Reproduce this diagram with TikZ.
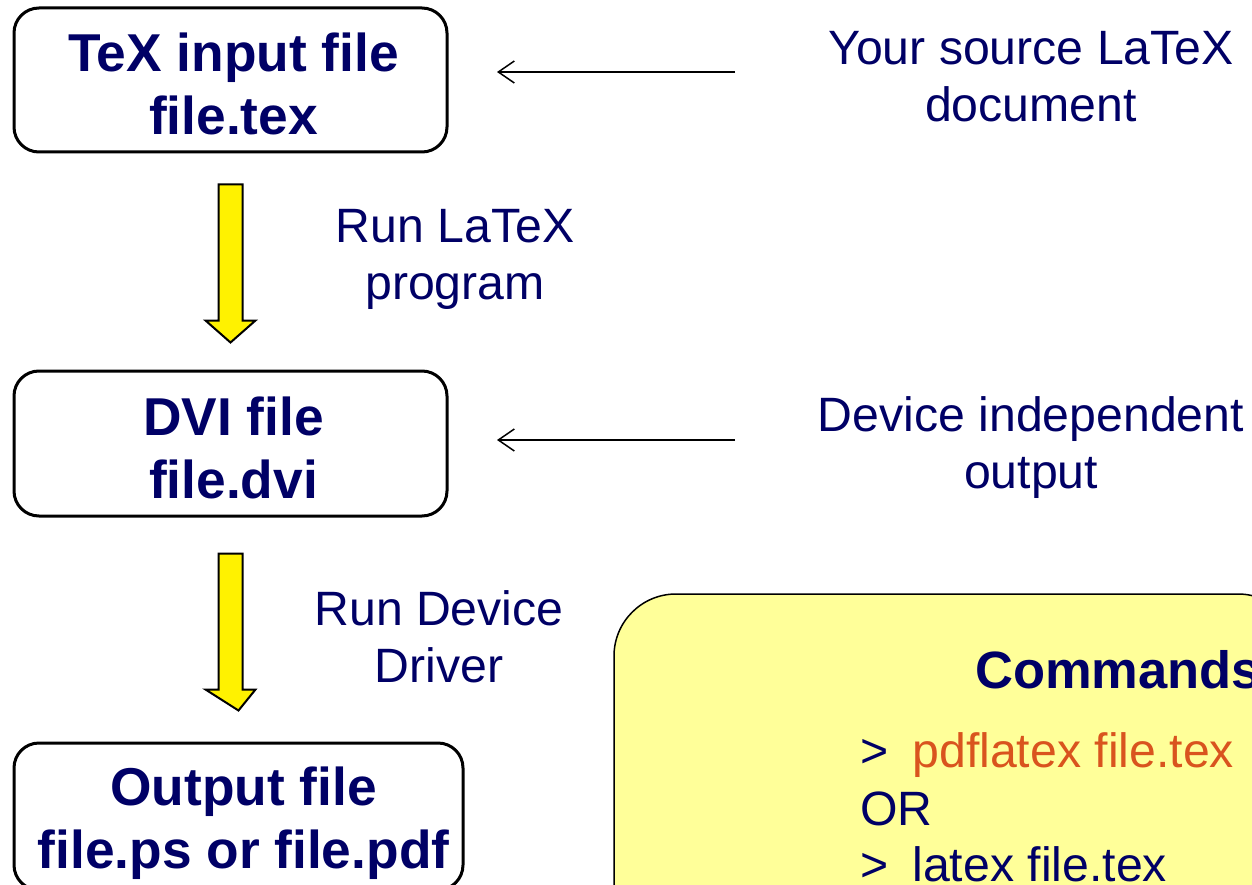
\documentclass[tikz,border=0pt]{standalone}
\usepackage{fontspec}
\setmainfont{Liberation Sans}
\usetikzlibrary{arrows.meta,calc}
\definecolor{navy}{RGB}{0,0,102}
\definecolor{cmdorange}{RGB}{217,84,30}
\definecolor{lightyel}{RGB}{255,255,153}
\begin{document}
\begin{tikzpicture}[x=1pt,y=-1pt,
  filebox/.style={draw=black, line width=3pt, rounded corners=25pt, inner sep=0pt},
  boxtext/.style={align=center, text=navy, font=\fontsize{53.3}{63}\selectfont\bfseries, inner sep=0pt},
  lbl/.style={align=center, text=navy, font=\fontsize{48.2}{57}\selectfont, inner sep=0pt},
  cmdtxt/.style={anchor=base west, text=navy, font=\fontsize{48.2}{57}\selectfont, inner sep=0pt},
  blockarrow/.style={draw=black, line width=2pt, fill=yellow, line join=miter},
  thinarrow/.style={draw=black, line width=1.5pt, -{Straight Barb[length=16pt,width=22pt]}},
  cmdbox/.style={draw=black, line width=1.5pt, fill=lightyel, rounded corners=62pt}]
\useasboundingbox (0,0) rectangle (1252,885);
\clip (0,0) rectangle (1252,885);
\fill[white] (0,0) rectangle (1252,885);

% file boxes
\node[filebox, minimum width=433pt, minimum height=144pt] (b1) at (230.5,80) {};
\node[filebox, minimum width=433pt, minimum height=145pt] (b2) at (230.5,443.5) {};
\node[filebox, minimum width=449pt, minimum height=147pt] (b3) at (238.5,816.5) {};
\node[boxtext] (t1) at ($(b1.center)+(3,4)$) {TeX input file\\file.tex};
\node[boxtext] (t2) at ($(b2.center)+(3,4)$) {DVI file\\file.dvi};
\node[boxtext] (t3) at ($(b3.center)+(5,7)$) {Output file\\file.ps or file.pdf};

% yellow block arrows
\draw[blockarrow] ($(b1.south)+(-12,31)$) -- ($(b1.south)+(12,31)$) -- ($(b1.south)+(12,167)$)
  -- ($(b1.south)+(25,167)$) -- ($(b2.north)+(0,-27)$) -- ($(b1.south)+(-25,167)$)
  -- ($(b1.south)+(-12,167)$) -- cycle;
\draw[blockarrow] ($(b2.south)+(-12,36)$) -- ($(b2.south)+(12,36)$) -- ($(b2.south)+(12,172)$)
  -- ($(b2.south)+(25,172)$) -- ($(b3.north)+(0,-31)$) -- ($(b2.south)+(-25,172)$)
  -- ($(b2.south)+(-12,172)$) -- cycle;

% labels
\node[lbl] (run1) at (455,259) {Run LaTeX\\program};
\node[lbl] (run2) at (439,637) {Run Device\\Driver};
\node[lbl] (src) at (1031,77) {Your source LaTeX\\document};
\node[lbl] (dvi) at (1031,448) {Device independent\\output};

% thin arrows
\coordinate (a1s) at (735,72);
\coordinate (a1e) at (497,72);
\coordinate (a2s) at (735,440);
\coordinate (a2e) at (497,440);
\draw[thinarrow] (a1s) -- (a1e);
\draw[thinarrow] (a2s) -- (a2e);

% commands box
\node[cmdbox, minimum width=686pt, minimum height=356pt] (cmd) at (957,772) {};
\node[anchor=base west, text=navy, font=\fontsize{52.5}{60}\selectfont\bfseries, inner sep=0pt] (cmdt) at (975,688) {Commands};
\node[cmdtxt] (c1) at (860,767) {>\hspace{0.5em}\textcolor{cmdorange}{pdflatex file.tex}};
\node[cmdtxt] (c2) at (860,825) {OR};
\node[cmdtxt] (c3) at (860,881) {>\hspace{0.5em}latex file.tex};
\end{tikzpicture}
\end{document}
